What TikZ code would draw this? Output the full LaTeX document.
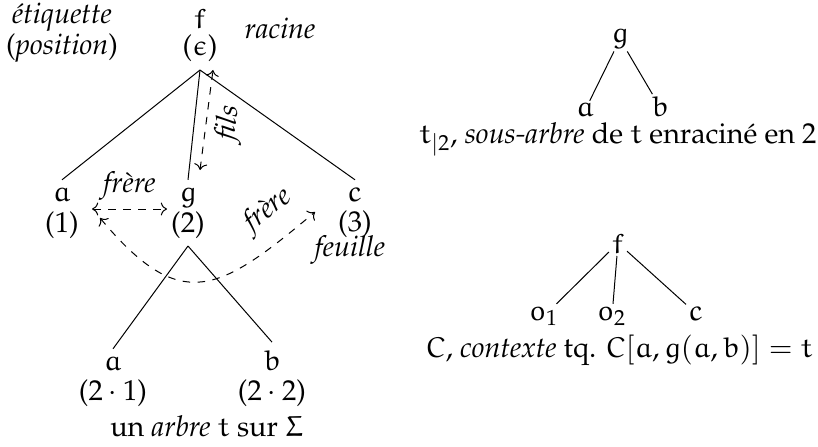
\documentclass[tikz,border=0pt]{standalone}
\usepackage[T1]{fontenc}
\usepackage{mathpazo}
% lettres droites Euler pour les symboles
\DeclareFontFamily{U}{eur}{\skewchar\font'177}
\DeclareFontShape{U}{eur}{m}{n}{<-6> eurm5 <6-8> eurm7 <8-> eurm10}{}
\DeclareSymbolFont{eulerletters}{U}{eur}{m}{n}
\DeclareSymbolFontAlphabet{\mathe}{eulerletters}
\DeclareMathSymbol{\eeps}{\mathord}{eulerletters}{"0F}
\DeclareMathSymbol{\eSigma}{\mathord}{eulerletters}{"06}
\newcommand{\eu}[1]{\ensuremath{\mathe{#1}}}
\usetikzlibrary{arrows.meta, calc, positioning}
\pgfkeys{/tikz/.cd,
    overall style/.style={
        thin,
        >=To,
        font=\fontsize{11.5}{12}\selectfont,
        x=0.4pt, y=0.4pt   % une unite = un pixel de l'image
    },
    tree sym/.style={anchor=base, inner sep=3pt},
    plain/.style={anchor=base, inner sep=1pt},
    note/.style={anchor=base, font=\fontsize{11.5}{12}\selectfont\itshape, inner sep=1pt},
    link/.style={<->, dashed}
}

\begin{document}
\begin{tikzpicture}[overall style]
    \useasboundingbox (0,0) rectangle (818,-446);

    % --- 1. l'arbre t ---
    \node[note] (lab) at (62,-24) {\'etiquette};
    \node[plain] (lab-pos) at (62,-55) {(\emph{position})};

    \node[tree sym] (f)     at (200,-29)  {\eu{f}};
    \node[tree sym] (f-pos) at (200,-56)  {($\eeps$)};
    \node[tree sym] (a1)     at (62,-201)  {\eu{a}};
    \node[tree sym] (a1-pos) at (62,-232)  {(1)};
    \node[tree sym] (g2)     at (188,-201) {\eu{g}};
    \node[tree sym] (g2-pos) at (188,-232) {(2)};
    \node[tree sym] (c3)     at (355,-201) {\eu{c}};
    \node[tree sym] (c3-pos) at (355,-231) {(3)};
    \node[tree sym] (a21)     at (113,-370) {\eu{a}};
    \node[tree sym] (a21-pos) at (113,-400) {($2\cdot 1$)};
    \node[tree sym] (b22)     at (272,-370) {\eu{b}};
    \node[tree sym] (b22-pos) at (272,-400) {($2\cdot 2$)};
    \node[plain] (capt) at (207,-436) {un \emph{arbre} \eu{t} sur $\eSigma$};

    \foreach \from/\to in {f-pos/a1, f-pos/g2, f-pos/c3, g2-pos/a21, g2-pos/b22} {
        \draw (\from.south) -- (\to.north);
    }

    % --- 2. notes ---
    \node[note] (racine) at (280,-39) {racine};
    \node[note] (feuille) at (350,-256) {feuille};

    \coordinate (fils-bas)  at (200,-170);
    \coordinate (fils-haut) at (213,-70);
    \draw[link] (fils-bas) -- (fils-haut)
        node[midway, sloped, below] (fils) {\emph{fils}};

    \coordinate (frere-g) at (92,-209);
    \coordinate (frere-d) at (167,-209);
    \draw[link] (frere-g) -- (frere-d)
        node[midway, above=0pt] (frere1) {\emph{fr\`ere}};

    \coordinate (cousin-g) at (100,-218);
    \coordinate (cousin-d) at (315,-212);
    \draw[link] (cousin-g) to[out=-50, in=-140, looseness=1.5]
        node[pos=0.9, sloped, above=3pt] (frere2) {\emph{fr\`ere}} (cousin-d);

    % --- 3. le sous-arbre ---
    \node[plain] (sg) at (620,-43)  {\eu{g}};
    \node[plain] (sa) at (585,-117) {\eu{a}};
    \node[plain] (sb) at (660,-117) {\eu{b}};
    \node[plain] (scapt) at (618,-143)
        {$\mathe{t}_{|2}$, \emph{sous-arbre} de \eu{t} enracin\'e en 2};
    \draw (sg) -- (sa);
    \draw (sg) -- (sb);

    % --- 4. le contexte ---
    \node[plain] (cf)  at (618,-253) {\eu{f}};
    \node[plain] (co1) at (544,-320) {$\mathe{o}_1$};
    \node[plain] (co2) at (612,-320) {$\mathe{o}_2$};
    \node[plain] (cc)  at (696,-320) {\eu{c}};
    \node[plain] (ccapt) at (619,-357)
        {\eu{C}, \emph{contexte} tq. $\mathe{C}[\mathe{a}, \mathe{g}(\mathe{a}, \mathe{b})] = \mathe{t}$};
    \foreach \to in {co1, co2, cc} {
        \draw (cf) -- (\to);
    }

\end{tikzpicture}
\end{document}
